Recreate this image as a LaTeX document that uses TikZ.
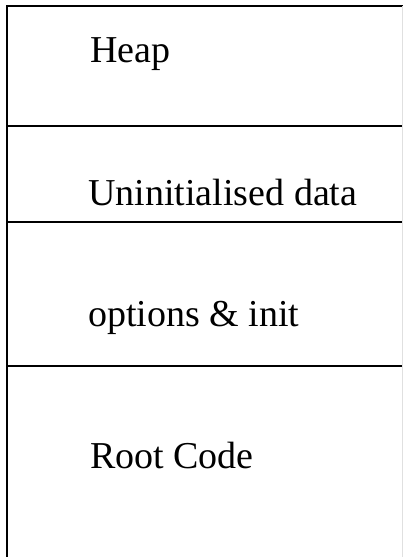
\documentclass[tikz,border=0pt]{standalone}
\usepackage{fontspec}
\setmainfont{Liberation Serif}
\begin{document}
\begin{tikzpicture}[x=1pt,y=-1pt,
  rule/.style={line width=2pt,black},
  lbl/.style={anchor=base west,inner sep=0pt,font=\fontsize{38}{41}\selectfont}]
\useasboundingbox (0,0) rectangle (403,557);
\fill[white] (0,0) rectangle (403,557);
\coordinate (tl) at (7,6);
\coordinate (tr) at (403,6);
\coordinate (bl) at (7,557);
\coordinate (l1) at (7,126);
\coordinate (r1) at (403,126);
\coordinate (l2) at (7,222);
\coordinate (r2) at (403,222);
\coordinate (l3) at (7,366);
\coordinate (r3) at (403,366);
\draw[rule] (tr) -- (tl) -- (bl);
\draw[rule] (l1) -- (r1);
\draw[rule] (l2) -- (r2);
\draw[rule] (l3) -- (r3);
\draw[black!12,line width=1pt] (402,6) -- (402,557);
\node[lbl] (heap) at (90,62) {Heap};
\node[lbl] (uninit) at (88,205) {Uninitialised data};
\node[lbl] (opts) at (88,326) {options \& init};
\node[lbl] (root) at (90,468) {Root Code};
\end{tikzpicture}
\end{document}
